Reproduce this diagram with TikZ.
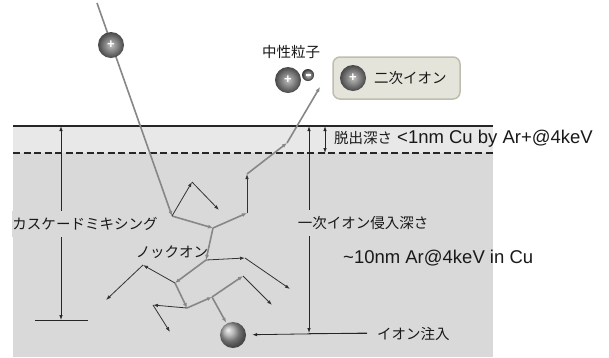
\documentclass[tikz,border=0pt]{standalone}
\usepackage{fontspec}
\setmainfont{Liberation Sans}
\newfontfamily\jp{Noto Sans CJK JP}
\usetikzlibrary{arrows.meta}
\definecolor{bandlight}{HTML}{E8E8E8}
\definecolor{bulk}{HTML}{D9D9D9}
\definecolor{trackgray}{HTML}{878787}
\definecolor{boxfill}{HTML}{E4E4DA}
\definecolor{boxedge}{HTML}{BDBDB0}
\tikzset{
  jptext/.style={font=\jp\fontsize{14.5}{16}\selectfont, inner sep=1pt, text=black!90},
  lattext/.style={font=\fontsize{18.5}{20}\selectfont, inner sep=1pt, text=black!90},
  track/.style={draw=trackgray, line width=1.6pt, -{Latex[length=5pt,width=4pt]}},
  recoil/.style={draw=black!80, line width=0.8pt, -{Latex[length=5pt,width=3.5pt]}},
  dim/.style={draw=black!85, line width=0.8pt},
  dimtip/.style={dim, {Latex[length=5pt,width=3.5pt]}-{Latex[length=5pt,width=3.5pt]}},
  ion/.style={circle, minimum size=26pt, inner sep=0pt, inner color=gray!50, outer color=black!72,
    text=white, font=\bfseries\fontsize{13}{13}\selectfont},
  electron/.style={circle, minimum size=12pt, inner sep=0pt, inner color=gray!40, outer color=black!80,
    text=white},
  implanted/.style={circle, minimum size=26pt, inner sep=0pt, ball color=gray!75},
  gap/.style={fill=bulk, inner xsep=1pt, inner ysep=6pt},
}
\begin{document}
\begin{tikzpicture}[x=1pt,y=-1pt]
  % canvas
  \fill[white] (0,0) rectangle (609,357);
  \useasboundingbox (0,0) rectangle (609,357);

  % target: bulk and escape-depth band
  \fill[bulk] (13,126) rectangle (493,357);
  \fill[bandlight] (13,126) rectangle (493,153);
  \draw[line width=2pt, black!85] (13,126) -- (493,126);
  \draw[line width=2pt, black!85, dash pattern=on 7pt off 3.5pt] (13,153) -- (493,153);

  % collision points of the cascade
  \coordinate (P0) at (97,3);
  \coordinate (K1) at (172,216);
  \coordinate (K2) at (213,228);
  \coordinate (K3) at (247,213);
  \coordinate (K4) at (247,174);
  \coordinate (K5) at (287,143);
  \coordinate (K6) at (320,87);
  \coordinate (K7) at (206,260);
  \coordinate (K8) at (175,283);
  \coordinate (K9) at (187,308);
  \coordinate (K10) at (212,297);
  \coordinate (a1) at (192,182);
  \coordinate (a2) at (219,210);
  \coordinate (b1) at (245,258);
  \coordinate (b2) at (290,289);
  \coordinate (c1) at (143,265);
  \coordinate (c2) at (106,300);
  \coordinate (d1) at (153,305);
  \coordinate (d2) at (170,332);
  \coordinate (e1) at (243,276);
  \coordinate (e2) at (272,305);

  % dimension lines
  \coordinate (Ltop) at (61,126);
  \coordinate (Lbot) at (61,320);
  \coordinate (LbarA) at (35,320);
  \coordinate (LbarB) at (88,320);
  \coordinate (Rtop) at (309,126);
  \coordinate (Rbot) at (309,333);
  \coordinate (Rend) at (367,333);
  \coordinate (Etop) at (325,126);
  \coordinate (Ebot) at (325,153);

  \draw[dimtip] (Ltop) -- (Lbot);
  \draw[dim] (LbarA) -- (LbarB);
  \draw[dimtip] (Rtop) -- (Rbot);
  \draw[dim] (Rbot) -- (Rend);
  \draw[dimtip] (Etop) -- (Ebot);

  % implanted primary ion
  \node[implanted] (S) at (233,335) {};
  \draw[dim, -{Latex[length=5pt,width=3.5pt]}, shorten >=6pt] (Rend) -- (S);

  % primary ion track and cascade
  \draw[track] (P0) -- (K1);
  \draw[track] (K1) -- (K2);
  \draw[track] (K2) -- (K3);
  \draw[recoil] (K3) -- (K4);
  \draw[track] (K4) -- (K5);
  \draw[track] (K5) -- (K6);
  \draw[track] (K2) -- (K7);
  \draw[track] (K7) -- (K8);
  \draw[track] (K8) -- (K9);
  \draw[track] (K9) -- (K10);
  \draw[track] (K10) -- (e1);
  \draw[track, shorten >=1pt] (K10) -- (S);
  \draw[recoil] (K1) -- (a1);
  \draw[recoil] (a1) -- (a2);
  \draw[recoil] (K7) -- (b1);
  \draw[recoil] (b1) -- (b2);
  \draw[recoil] (K8) -- (c1);
  \draw[recoil] (c1) -- (c2);
  \draw[recoil] (K9) -- (d1);
  \draw[recoil] (d1) -- (d2);
  \draw[recoil] (e1) -- (e2);

  % incoming primary ion
  \node[ion] (ionIn) at (111,45) {+};

  % neutral particle
  \node[jptext] (neutralLbl) at (291,52) {中性粒子};
  \node[ion] (neutralIon) at (288,80) {+};
  \node[electron] (neutralE) at (308,75) {\rule[-0.7pt]{5pt}{1.5pt}};

  % secondary ion
  \node[draw=boxedge, line width=1.5pt, fill=boxfill, rounded corners=7pt,
        minimum width=127pt, minimum height=42pt] (secBox) at (396.5,78) {};
  \node[ion] (secIon) at (353,78) {+};
  \node[jptext, anchor=west] (secLbl) at (373,78) {二次イオン};

  % labels
  \node[jptext, gap] (cascLbl) at (85,224) {カスケードミキシング};
  \node[jptext, gap] (depthLbl) at (363,223) {一次イオン侵入深さ};
  \node[lattext, anchor=west] (depthVal) at (342,258) {\textasciitilde 10nm Ar@4keV in Cu};
  \node[jptext] (knockLbl) at (172,252) {ノックオン};
  \node[anchor=west, inner sep=1pt, text=black!90] (escLbl) at (333,139)
    {{\jp\fontsize{14.5}{16}\selectfont 脱出深さ}\hspace{5pt}{\fontsize{18.5}{20}\selectfont <1nm Cu by Ar+@4keV}};
  \node[jptext, anchor=west] (implLbl) at (376,334) {イオン注入};
\end{tikzpicture}
\end{document}
